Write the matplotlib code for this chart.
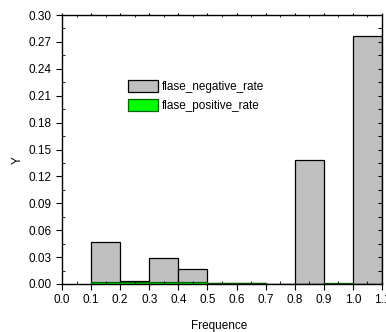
import numpy as np
import matplotlib
matplotlib.use("Agg")
import matplotlib.pyplot as plt
from matplotlib.ticker import MultipleLocator

plt.rcParams['font.family'] = ['Liberation Sans', 'DejaVu Sans']

# bin left edges and heights
bin_left = [0.1, 0.2, 0.3, 0.4, 0.5, 0.6, 0.7, 0.8, 0.9, 1.0]
neg_rate = [0.0465, 0.0035, 0.029, 0.0163, 0.001, 0.001, 0.0, 0.138, 0.0, 0.2765]
pos_rate = [0.002, 0.002, 0.002, 0.002, 0.001, 0.001, 0.0, 0.0, 0.0006, 0.0]

fig = plt.figure(figsize=(3.86, 3.32), dpi=100)
ax = fig.add_axes([62 / 386, 1 - 284 / 332, 320 / 386, 269 / 332])

ax.bar(bin_left, neg_rate, width=0.1, align="edge", color="#c0c0c0",
       edgecolor="black", linewidth=0.9, label="flase_negative_rate")
ax.bar(bin_left, pos_rate, width=0.1, align="edge", color="#00ff00",
       edgecolor="#006400", linewidth=0.9, label="flase_positive_rate")

ax.set_xlim(0.0, 1.1)
ax.set_ylim(0.0, 0.30)
ax.xaxis.set_minor_locator(MultipleLocator(0.05))
ax.yaxis.set_minor_locator(MultipleLocator(0.015))
ax.set_xticks(np.arange(0, 1.11, 0.1))
ax.set_xticklabels(["%.1f" % v for v in np.arange(0, 1.11, 0.1)])
ax.set_yticks(np.arange(0, 0.301, 0.03))
ax.set_yticklabels(["%.2f" % v for v in np.arange(0, 0.301, 0.03)])

# left / bottom: major out, minor in
ax.tick_params(which="major", direction="out", length=4, width=0.8, labelsize=8.5)
ax.tick_params(which="minor", direction="in", length=2, width=0.6)
# top: tiny ticks, right: inward ticks
ax.tick_params(which="both", axis="x", top=True, labeltop=False)
ax.tick_params(which="both", axis="y", right=True, labelright=False)
for t in ax.xaxis.get_major_ticks() + ax.xaxis.get_minor_ticks():
    t.tick2line.set_markersize(1.5)
for t in ax.yaxis.get_major_ticks() + ax.yaxis.get_minor_ticks():
    t.tick2line.set_marker(0)
    t.tick2line.set_markersize(3)
    t.tick2line.set_markeredgewidth(0.7)
for s in ax.spines.values():
    s.set_linewidth(1.0)

ax.set_xlabel("Frequence", fontsize=8.5)
ax.set_ylabel("Y", fontsize=8.5)
ax.xaxis.set_label_coords(0.49, -0.135)
ax.yaxis.set_label_coords(-0.12, 0.46)

leg = ax.legend(loc="upper left", bbox_to_anchor=(0.19, 0.775), frameon=False,
                fontsize=8.5, handlelength=2.6, handleheight=1.2,
                labelspacing=0.45, handletextpad=0.35, borderaxespad=0)

fig.savefig("out.png", dpi=100)
